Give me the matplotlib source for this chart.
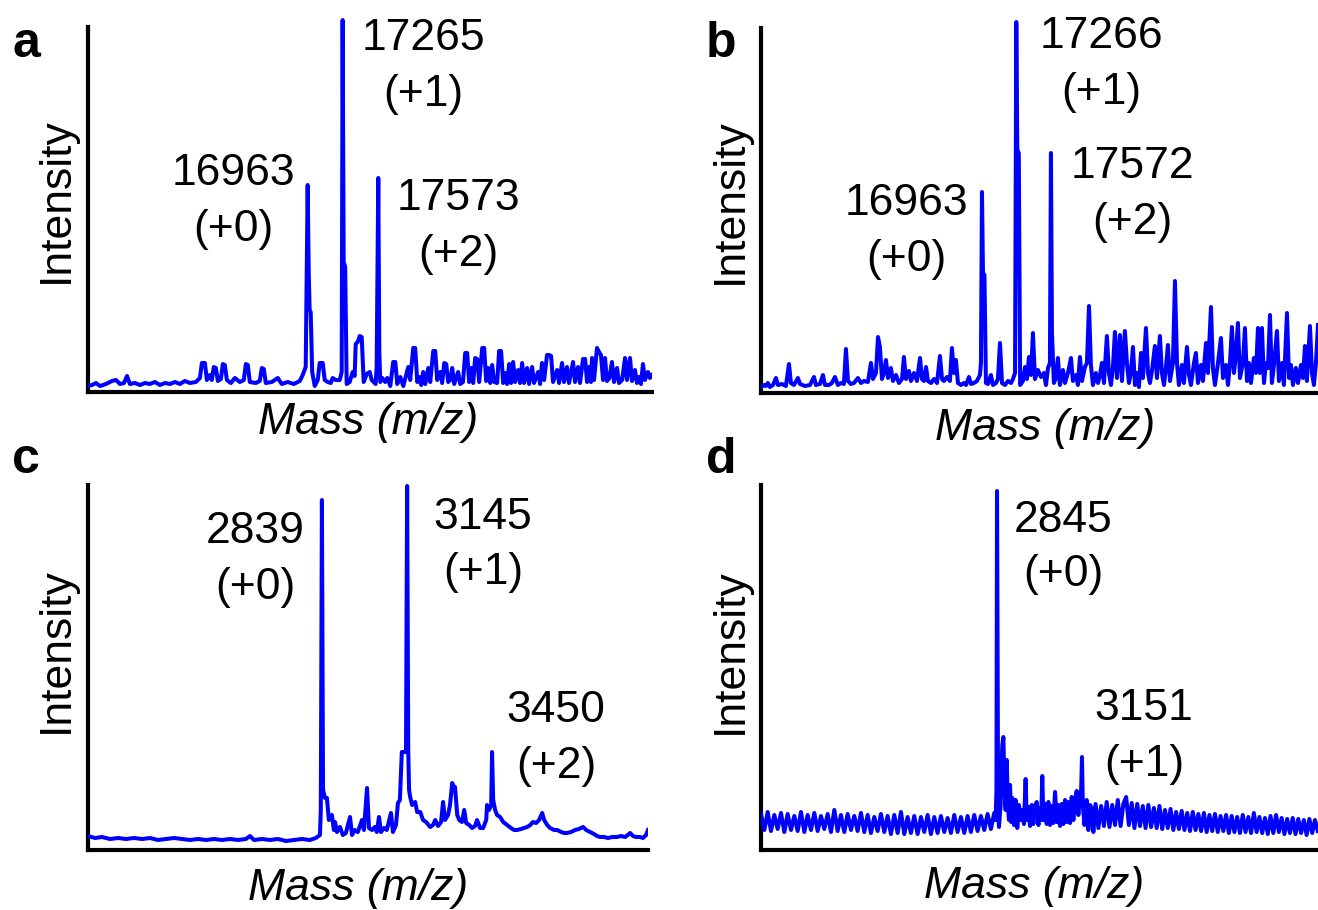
import matplotlib
matplotlib.use("Agg")
import matplotlib.pyplot as plt

# ---- data (m/z, intensity in arbitrary units) ----
mz_a = [15065, 15100, 15134, 15169, 15220, 15272, 15307, 15341, 15376, 15402,
        15427, 15470, 15514, 15557, 15600, 15643, 15686, 15730, 15773, 15816,
        15859, 15902, 15945, 15997, 16032, 16049, 16075, 16092, 16118, 16135,
        16152, 16170, 16187, 16213, 16230, 16247, 16265, 16300, 16334, 16377,
        16411, 16429, 16446, 16463, 16515, 16549, 16567, 16584, 16601, 16653,
        16705, 16739, 16791, 16843, 16895, 16920, 16946, 16963, 16972, 16980,
        16989, 17002, 17024, 17050, 17067, 17093, 17110, 17136, 17162, 17179,
        17205, 17240, 17257, 17265, 17274, 17287, 17300, 17326, 17352, 17369,
        17378, 17395, 17413, 17430, 17447, 17473, 17499, 17516, 17550, 17559,
        17573, 17582, 17590, 17608, 17633, 17651, 17677, 17702, 17720, 17737,
        17763, 17789, 17832, 17849, 17875, 17892, 17910, 17927, 17944, 17961,
        17979, 18005, 18022, 18048, 18065, 18082, 18108, 18125, 18143, 18160,
        18177, 18195, 18212, 18229, 18263, 18281, 18305, 18324, 18341, 18358,
        18376, 18393, 18410, 18427, 18445, 18471, 18488, 18505, 18522, 18540,
        18557, 18574, 18600, 18617, 18634, 18652, 18669, 18686, 18704, 18721,
        18738, 18755, 18781, 18798, 18816, 18833, 18859, 18876, 18902, 18919,
        18954, 18971, 18988, 19006, 19031, 19049, 19066, 19083, 19118, 19135,
        19161, 19178, 19204, 19221, 19256, 19273, 19299, 19316, 19342, 19360,
        19377, 19394, 19411, 19420, 19437, 19463, 19480, 19497, 19515, 19532,
        19549, 19570, 19592, 19610, 19636, 19653, 19680, 19705, 19722, 19748,
        19765, 19791, 19808, 19825, 19843, 19860, 19877, 19903, 19920, 19938]
int_a = [6, 7, 9, 6, 8, 11, 12, 8, 9, 16,
         8, 9, 7, 9, 8, 10, 7, 9, 8, 10,
         8, 11, 9, 10, 14, 29, 29, 12, 17, 12,
         25, 24, 11, 13, 28, 27, 12, 9, 14, 10,
         12, 28, 27, 10, 9, 11, 24, 23, 9, 10,
         14, 8, 10, 8, 11, 17, 25, 207, 120, 82,
         80, 20, 6, 12, 29, 29, 12, 10, 9, 14,
         12, 12, 20, 372, 130, 125, 8, 10, 20, 16,
         48, 50, 56, 55, 10, 18, 20, 12, 8, 25,
         214, 40, 10, 14, 10, 14, 6, 30, 30, 8,
         15, 6, 25, 12, 44, 44, 10, 15, 7, 20,
         8, 24, 10, 41, 41, 12, 20, 9, 29, 28,
         10, 12, 24, 8, 20, 8, 10, 39, 39, 10,
         24, 9, 34, 33, 10, 44, 44, 11, 24, 9,
         27, 10, 9, 41, 41, 9, 19, 8, 28, 9,
         30, 10, 22, 9, 29, 9, 24, 8, 25, 9,
         20, 8, 29, 12, 37, 37, 36, 10, 22, 9,
         29, 10, 25, 9, 30, 10, 25, 9, 33, 33,
         10, 25, 10, 34, 12, 44, 40, 37, 12, 34,
         11, 14, 30, 10, 24, 9, 12, 34, 12, 34,
         11, 22, 9, 15, 8, 28, 12, 20, 14, 17]

mz_b = [15012, 15038, 15056, 15073, 15091, 15118, 15144, 15162, 15197, 15232,
        15259, 15276, 15303, 15338, 15356, 15400, 15444, 15480, 15497, 15533,
        15559, 15577, 15612, 15638, 15665, 15691, 15718, 15744, 15762, 15780,
        15806, 15833, 15868, 15895, 15921, 15956, 15983, 16001, 16027, 16045,
        16062, 16080, 16098, 16115, 16133, 16159, 16177, 16204, 16230, 16257,
        16274, 16292, 16318, 16336, 16363, 16389, 16416, 16433, 16451, 16469,
        16486, 16513, 16539, 16566, 16592, 16610, 16627, 16654, 16680, 16698,
        16716, 16733, 16751, 16778, 16804, 16822, 16848, 16866, 16892, 16919,
        16945, 16954, 16963, 16972, 16985, 16998, 17016, 17042, 17060, 17087,
        17104, 17122, 17140, 17166, 17193, 17219, 17237, 17255, 17266, 17275,
        17288, 17300, 17325, 17343, 17360, 17378, 17396, 17413, 17431, 17457,
        17484, 17510, 17528, 17546, 17563, 17572, 17581, 17598, 17616, 17634,
        17651, 17678, 17696, 17722, 17749, 17766, 17793, 17810, 17828, 17846,
        17872, 17890, 17908, 17925, 17943, 17969, 17987, 18005, 18022, 18040,
        18066, 18084, 18102, 18119, 18137, 18155, 18181, 18199, 18225, 18243,
        18261, 18278, 18296, 18314, 18331, 18349, 18367, 18384, 18411, 18429,
        18446, 18464, 18490, 18508, 18534, 18552, 18570, 18587, 18605, 18623,
        18649, 18667, 18685, 18702, 18729, 18746, 18773, 18791, 18808, 18835,
        18852, 18870, 18897, 18914, 18941, 18958, 18985, 19002, 19020, 19047,
        19073, 19091, 19117, 19135, 19153, 19170, 19188, 19206, 19223, 19241,
        19267, 19285, 19303, 19320, 19338, 19364, 19382, 19400, 19417, 19435,
        19453, 19470, 19488, 19506, 19523, 19541, 19568, 19585, 19612, 19629,
        19656, 19674, 19691, 19709, 19735, 19753, 19780, 19797, 19815, 19832,
        19859, 19877, 19894, 19912, 19930]
int_b = [6, 8, 7, 10, 6, 8, 15, 8, 9, 7,
         29, 10, 8, 15, 9, 7, 8, 16, 8, 9,
         18, 8, 8, 10, 16, 8, 10, 9, 44, 12,
         9, 10, 15, 10, 12, 11, 30, 14, 20, 56,
         46, 14, 20, 33, 15, 25, 12, 18, 10, 14,
         36, 14, 22, 12, 20, 12, 35, 14, 12, 26,
         12, 10, 14, 10, 37, 14, 12, 16, 12, 45,
         20, 33, 10, 8, 10, 8, 16, 9, 10, 12,
         18, 30, 201, 120, 118, 10, 9, 18, 8, 10,
         14, 50, 10, 8, 12, 10, 14, 20, 371, 243,
         240, 8, 12, 26, 14, 36, 18, 60, 14, 23,
         16, 20, 8, 25, 30, 240, 60, 10, 15, 35,
         8, 23, 10, 20, 35, 12, 18, 8, 36, 12,
         26, 30, 87, 28, 8, 20, 10, 18, 30, 10,
         57, 20, 8, 25, 61, 15, 58, 12, 62, 30,
         10, 20, 46, 8, 20, 6, 40, 15, 65, 20,
         10, 22, 47, 15, 57, 20, 8, 25, 48, 12,
         30, 112, 30, 8, 28, 10, 46, 18, 8, 30,
         40, 10, 28, 12, 50, 20, 86, 25, 8, 30,
         55, 15, 28, 8, 30, 66, 20, 40, 70, 15,
         30, 65, 12, 30, 10, 35, 20, 65, 20, 65,
         10, 30, 25, 78, 10, 28, 62, 12, 30, 8,
         80, 15, 28, 8, 25, 10, 28, 15, 47, 12,
         67, 20, 8, 30, 68]

mz_c = [1999, 2024, 2049, 2078, 2107, 2135, 2164, 2193, 2222, 2250,
        2279, 2308, 2336, 2365, 2394, 2423, 2451, 2480, 2509, 2537,
        2566, 2581, 2595, 2624, 2652, 2681, 2710, 2738, 2767, 2796,
        2817, 2832, 2835, 2839, 2843, 2850, 2857, 2864, 2875, 2882,
        2886, 2893, 2904, 2914, 2925, 2940, 2947, 2957, 2968, 2983,
        2990, 3001, 3008, 3019, 3029, 3036, 3044, 3051, 3062, 3072,
        3087, 3094, 3105, 3112, 3119, 3126, 3134, 3138, 3141, 3145,
        3149, 3152, 3156, 3163, 3174, 3181, 3192, 3202, 3213, 3228,
        3238, 3246, 3256, 3267, 3274, 3281, 3292, 3299, 3307, 3314,
        3317, 3325, 3332, 3342, 3350, 3357, 3368, 3378, 3389, 3396,
        3407, 3418, 3429, 3432, 3439, 3447, 3450, 3454, 3461, 3468,
        3479, 3490, 3504, 3518, 3529, 3540, 3554, 3565, 3576, 3587,
        3597, 3608, 3619, 3630, 3637, 3648, 3658, 3673, 3684, 3698,
        3709, 3719, 3734, 3748, 3762, 3777, 3788, 3802, 3816, 3827,
        3838, 3852, 3867, 3881, 3899, 3913, 3928, 3946, 3956, 3967,
        3981, 3992, 4003, 4010]
int_c = [14, 12, 13, 11, 12, 11, 12, 11, 12, 10,
         11, 12, 11, 10, 11, 10, 11, 10, 11, 10,
         11, 14, 10, 11, 10, 11, 9, 10, 11, 10,
         12, 15, 40, 350, 60, 52, 52, 30, 35, 20,
         28, 18, 23, 15, 17, 33, 15, 20, 18, 30,
         20, 62, 22, 20, 23, 18, 33, 18, 22, 20,
         37, 18, 25, 47, 50, 98, 98, 98, 100, 364,
         100, 60, 53, 45, 48, 38, 38, 30, 28, 23,
         25, 30, 24, 28, 48, 30, 35, 45, 67, 62,
         63, 35, 30, 28, 40, 27, 25, 22, 24, 30,
         22, 22, 30, 45, 40, 45, 98, 50, 40, 35,
         33, 28, 25, 22, 20, 20, 21, 22, 23, 25,
         28, 27, 30, 37, 30, 25, 22, 20, 20, 18,
         17, 17, 18, 20, 21, 23, 20, 18, 16, 14,
         13, 13, 12, 13, 13, 14, 13, 17, 14, 13,
         13, 12, 15, 20]

mz_d = [1995, 2007, 2019, 2031, 2043, 2055, 2067, 2079, 2091, 2103,
        2115, 2127, 2139, 2151, 2163, 2175, 2187, 2199, 2211, 2223,
        2235, 2247, 2259, 2271, 2283, 2295, 2307, 2319, 2331, 2343,
        2355, 2367, 2379, 2391, 2403, 2415, 2427, 2439, 2451, 2463,
        2475, 2487, 2499, 2511, 2523, 2535, 2547, 2559, 2571, 2583,
        2595, 2607, 2619, 2631, 2643, 2655, 2667, 2679, 2691, 2703,
        2715, 2727, 2739, 2751, 2763, 2775, 2787, 2799, 2811, 2823,
        2835,
        2840, 2843, 2845, 2849, 2852, 2858, 2864, 2868, 2872, 2876,
        2880, 2884, 2888, 2892, 2896, 2900, 2906, 2912, 2918, 2924,
        2930, 2936, 2942, 2948, 2952, 2958, 2964, 2970, 2976, 2982,
        2988, 2994, 3000, 3004, 3008, 3012, 3018, 3024, 3030, 3036,
        3042, 3048, 3054, 3060, 3066, 3072, 3078, 3084, 3090, 3096,
        3102, 3108, 3114, 3120, 3126, 3132, 3138, 3144, 3148, 3151,
        3154, 3160, 3168, 3174, 3180, 3186, 3192,
        3200, 3210, 3220, 3230, 3240, 3250, 3260, 3270, 3280, 3290,
        3300, 3310, 3320, 3330, 3340, 3350, 3360, 3370, 3380, 3390,
        3400, 3410, 3420, 3430, 3440, 3450, 3460, 3470, 3480, 3490,
        3500, 3510, 3520, 3530, 3540, 3550, 3560, 3570, 3580, 3590,
        3600, 3610, 3620, 3630, 3640, 3650, 3660, 3670, 3680, 3690,
        3700, 3710, 3720, 3730, 3740, 3750, 3760, 3770, 3780, 3790,
        3800, 3810, 3820, 3830, 3840, 3850, 3860, 3870, 3880, 3890,
        3900, 3910, 3920, 3930, 3940, 3950, 3960, 3970, 3980, 3990,
        4000]
int_d = [36, 20, 38, 19, 35, 21, 37, 18, 36, 20,
         34, 19, 38, 18, 35, 20, 37, 19, 34, 21,
         36, 18, 40, 19, 35, 18, 36, 20, 34, 19,
         37, 18, 35, 17, 33, 19, 36, 18, 34, 16,
         35, 17, 38, 16, 33, 17, 34, 16, 33, 18,
         35, 16, 33, 17, 34, 18, 32, 17, 35, 18,
         33, 17, 34, 18, 35, 19, 34, 20, 36, 21,
         37,
         30, 60, 359, 40, 23, 45, 105, 113, 60, 40,
         90, 45, 30, 65, 28, 52, 25, 50, 22, 45,
         30, 40, 26, 71, 30, 43, 24, 45, 26, 44,
         48, 25, 42, 30, 74, 30, 46, 26, 48, 25,
         44, 27, 58, 28, 45, 24, 46, 26, 50, 28,
         48, 27, 53, 30, 50, 59, 35, 55, 60, 93,
         45, 25, 50, 20, 45, 42, 18,
         46, 22, 44, 24, 48, 23, 45, 25, 50, 24,
         46, 53, 25, 47, 22, 46, 24, 44, 22, 45,
         23, 42, 22, 44, 21, 40, 22, 41, 20, 38,
         21, 39, 20, 37, 19, 38, 20, 36, 19, 37,
         18, 35, 19, 36, 18, 34, 19, 35, 17, 34,
         18, 33, 17, 35, 18, 33, 17, 37, 18, 33,
         17, 32, 16, 34, 17, 35, 18, 32, 16, 31,
         17, 32, 16, 31, 17, 30, 15, 31, 17, 30,
         19]

peak_labels_a = ["16963\n(+0)", "17265\n(+1)", "17573\n(+2)"]
peak_labels_b = ["16963\n(+0)", "17266\n(+1)", "17572\n(+2)"]
peak_labels_c = ["2839\n(+0)", "3145\n(+1)", "3450\n(+2)"]
peak_labels_d = ["2845\n(+0)", "3151\n(+1)"]

# ---- layout (pixels of the 1318x910 canvas) ----
W, H = 1318, 910
plt.rcParams['font.family'] = ['Liberation Sans', 'DejaVu Sans']
fig = plt.figure(figsize=(W / 100, H / 100), dpi=100)


def fx(x):
    return x / W


def fy(y):
    return 1 - y / H


def panel(left, base, right, mz, inten, xlim, letter, letter_xy,
          ylab_xy, xlab_xy, labels, label_pos):
    assert len(mz) == len(inten)
    ax = fig.add_axes([fx(left), fy(base), (right - left) / W, 375 / H])
    ax.plot(mz, inten, color="#0000ff", lw=2.9, zorder=3)
    ax.set_xlim(*xlim)
    ax.set_ylim(0, 375)
    ax.set_xticks([])
    ax.set_yticks([])
    ax.patch.set_alpha(0)
    for s in ("top", "right"):
        ax.spines[s].set_visible(False)
    for s in ("left", "bottom"):
        ax.spines[s].set_linewidth(3)
        ax.spines[s].set_capstyle("projecting")
    ax.spines["left"].set_bounds(0, 365)

    fig.text(fx(letter_xy[0]), fy(letter_xy[1]), letter, fontsize=36,
             fontweight="bold", ha="left", va="baseline")
    fig.text(fx(ylab_xy[0]), fy(ylab_xy[1]), "Intensity", fontsize=32,
             rotation=90, rotation_mode="anchor", ha="center", va="baseline")
    fig.text(fx(xlab_xy[0]), fy(xlab_xy[1]), "Mass (m/z)", fontsize=32,
             style="italic", ha="center", va="baseline")
    for lab, (x, y1, y2) in zip(labels, label_pos):
        top, bottom = lab.split("\n")
        fig.text(fx(x), fy(y1), top, fontsize=32, ha="center", va="baseline")
        fig.text(fx(x), fy(y2), bottom, fontsize=32, ha="center", va="baseline")
    return ax


panel(88, 392, 652, mz_a, int_a, (15065, 19938), "a", (12, 57),
      (68, 200), (368, 434), peak_labels_a,
      [(233, 185, 241), (423, 50, 106), (458, 210, 266)])
panel(761, 393, 1318, mz_b, int_b, (15012, 19930), "b", (706, 57),
      (742, 201), (1045, 440), peak_labels_b,
      [(906, 215, 271), (1101, 48, 104), (1132, 178, 234)])
panel(88, 850, 648, mz_c, int_c, (1999, 4010), "c", (12, 473),
      (68, 650), (358, 900), peak_labels_c,
      [(255, 543, 599), (483, 529, 584), (556, 722, 778)])
panel(761, 850, 1318, mz_d, int_d, (1995, 4001), "d", (706, 473),
      (742, 651), (1034, 898), peak_labels_d,
      [(1063, 532, 586), (1144, 720, 776)])

fig.savefig("out.png", dpi=100, facecolor="white")
